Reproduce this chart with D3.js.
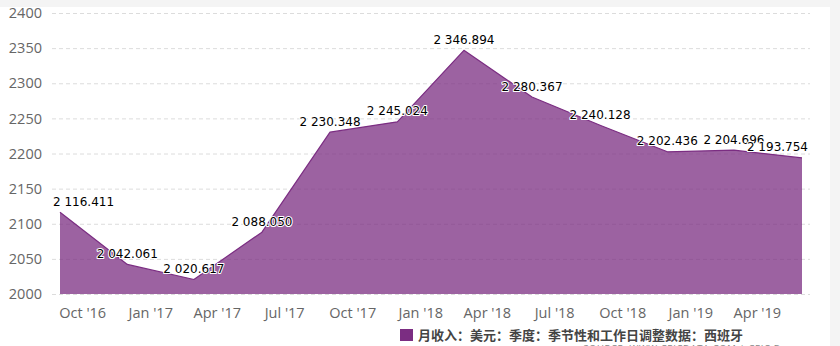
<!DOCTYPE html>
<html>
<head>
<meta charset="utf-8">
<script src="https://cdn.jsdelivr.net/npm/d3@7"></script>
<style>
  html, body { margin: 0; padding: 0; background: #f4f4f4; }
  svg { display: block; }
</style>
</head>
<body>
<svg id="chart" width="840" height="346"></svg>
<script>
// Quarterly average monthly earnings (USD), Spain, seasonally and working-day adjusted
const periods = ["2016-09-01", "2016-12-01", "2017-03-01", "2017-06-01", "2017-09-01", "2017-12-01",
                 "2018-03-01", "2018-06-01", "2018-09-01", "2018-12-01", "2019-03-01", "2019-06-01"];
const earnings = [2116.411, 2042.061, 2020.617, 2088.050, 2230.348, 2245.024,
                  2346.894, 2280.367, 2240.128, 2202.436, 2204.696, 2193.754];
const yTicks = [2000, 2050, 2100, 2150, 2200, 2250, 2300, 2350, 2400];
const xTickDates = ["2016-10-01", "2017-01-01", "2017-04-01", "2017-07-01", "2017-10-01", "2018-01-01",
                    "2018-04-01", "2018-07-01", "2018-10-01", "2019-01-01", "2019-04-01"];
const seriesName = "月收入：美元：季度：季节性和工作日调整数据：西班牙";
const sourceText = "SOURCE: WWW.CEICDATA.COM | CEIC Data";

const parse = d3.timeParse("%Y-%m-%d");
const data = periods.map((p, i) => ({ date: parse(p), value: earnings[i] }));

const svg = d3.select("#chart");
const color = "#7b2d82";
const plot = { left: 52, right: 810, top: 13, bottom: 294 };

// white chart card
svg.append("rect").attr("x", 0).attr("y", 7).attr("width", 830).attr("height", 339).attr("fill", "#ffffff");

const x = d3.scaleTime()
  .domain([data[0].date, data[data.length - 1].date])
  .range([60, 802]);
const y = d3.scaleLinear().domain([2000, 2400]).range([plot.bottom, plot.top]);

// horizontal dashed grid
svg.append("g").selectAll("line").data(yTicks).join("line")
  .attr("x1", plot.left).attr("x2", plot.right)
  .attr("y1", d => y(d) + 0.5).attr("y2", d => y(d) + 0.5)
  .attr("stroke", "#dcdcdc").attr("stroke-width", 1)
  .attr("stroke-dasharray", "4,3");

// y axis labels
const yAxis = svg.append("g").attr("transform", `translate(${plot.left - 10},0)`)
  .call(d3.axisLeft(y).tickValues(yTicks).tickSize(0).tickPadding(0).tickFormat(d3.format("d")));
yAxis.select(".domain").remove();
yAxis.selectAll("text")
  .attr("fill", "#666").attr("font-family", "'Open Sans', sans-serif").attr("font-size", 14.5);

// area and line
const area = d3.area().x(d => x(d.date)).y0(y(2000)).y1(d => y(d.value));
const line = d3.line().x(d => x(d.date)).y(d => y(d.value));
svg.append("path").datum(data).attr("d", area).attr("fill", color).attr("fill-opacity", 0.75);
svg.append("path").datum(data).attr("d", line).attr("fill", "none")
  .attr("stroke", color).attr("stroke-width", 1.2).attr("stroke-linejoin", "round");

// x axis labels
const xAxis = svg.append("g").attr("transform", `translate(0,${plot.bottom})`)
  .call(d3.axisBottom(x).tickValues(xTickDates.map(parse)).tickSize(0).tickPadding(14)
    .tickFormat(d3.timeFormat("%b '%y")));
xAxis.select(".domain").remove();
xAxis.selectAll("text")
  .attr("fill", "#666").attr("font-family", "'Open Sans', sans-serif").attr("font-size", 14.5);

// data labels, kept inside the plot area
const fmt = v => d3.format(",.3f")(v).replace(/,/g, " ");
const labels = svg.append("g").selectAll("text").data(data).join("text")
  .attr("font-family", "'DejaVu Sans', Verdana, sans-serif").attr("font-size", 12)
  .attr("fill", "#000")
  .attr("stroke", "#fff").attr("stroke-width", 2).attr("stroke-linejoin", "round")
  .attr("paint-order", "stroke")
  .attr("text-anchor", "middle")
  .attr("y", d => y(d.value) - 6.5)
  .text(d => fmt(d.value));
labels.each(function(d) {
  const w = this.getComputedTextLength();
  let cx = x(d.date);
  cx = Math.max(plot.left + 1 + w / 2, Math.min(plot.right - 2 - w / 2, cx));
  d3.select(this).attr("x", cx);
});

// legend
const legend = svg.append("g");
legend.append("rect").attr("x", 400).attr("y", 329).attr("width", 13).attr("height", 12).attr("fill", color);
legend.append("text").attr("x", 418).attr("y", 339.5)
  .attr("font-family", "'Noto Sans CJK SC', sans-serif").attr("font-size", 13).attr("font-weight", "bold")
  .attr("fill", "#444").text(seriesName);

// source credit
svg.append("text").attr("x", 797).attr("y", 352).attr("text-anchor", "end")
  .attr("font-family", "'Open Sans', sans-serif").attr("font-size", 9.5).attr("fill", "#888")
  .attr("letter-spacing", 0.6).text(sourceText);
</script>
</body>
</html>
